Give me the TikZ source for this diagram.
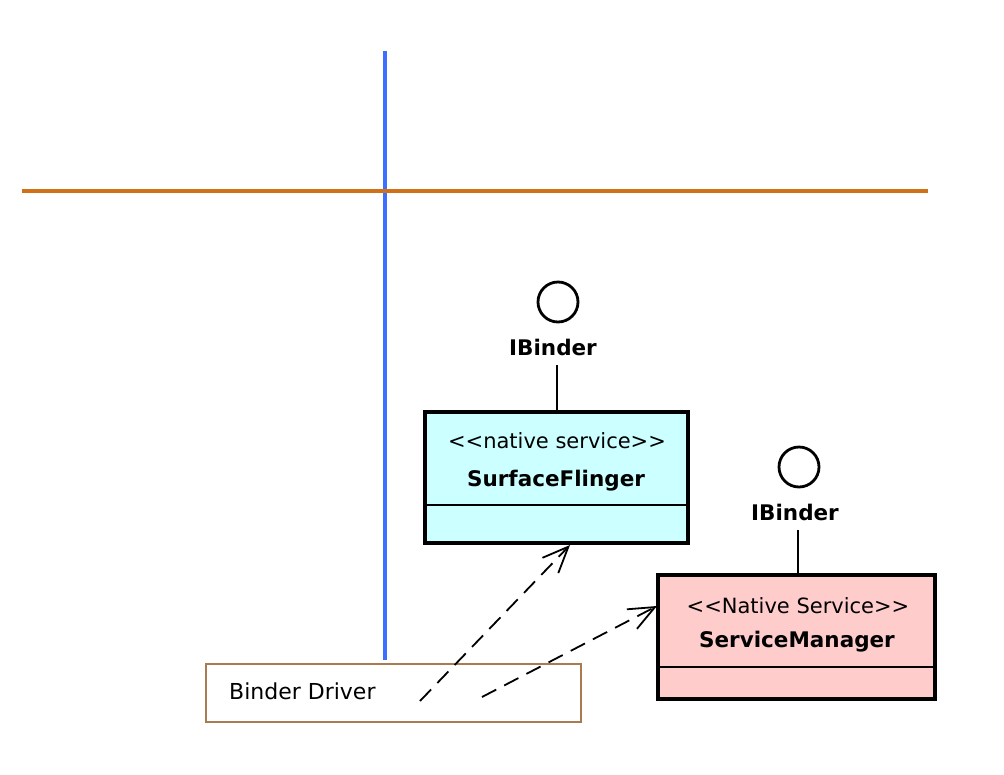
\documentclass[tikz,border=0pt]{standalone}
\usepackage{fontspec}
\setmainfont{DejaVu Sans}
\usetikzlibrary{arrows.meta,calc}
\definecolor{cyanfill}{RGB}{204,255,255}
\definecolor{pinkfill}{RGB}{255,204,204}
\definecolor{lineblue}{RGB}{60,110,255}
\definecolor{lineorange}{RGB}{208,112,24}
\definecolor{drvbrown}{RGB}{168,124,80}
\newcommand\myLT{\mbox{<}}
\newcommand\myGT{\mbox{>}}
\tikzset{
  classbox/.style={draw=black, line width=3.5pt, inner sep=0pt},
  stereo/.style={font=\fontsize{21}{25}\selectfont, inner sep=0pt},
  cname/.style={font=\bfseries\fontsize{21.5}{25}\selectfont, inner sep=0pt},
  lolli/.style={draw=black, line width=2.8pt, circle, minimum size=40pt, inner sep=0pt},
  iface/.style={font=\bfseries\fontsize{21.5}{25}\selectfont, inner sep=0pt},
  dep/.style={draw=black, line width=1.8pt, dash pattern=on 16pt off 9pt,
    -{Straight Barb[length=26pt,width=22pt,line width=1.8pt]}},
}
\begin{document}
\begin{tikzpicture}[x=1pt,y=-1pt]
\useasboundingbox[fill=white] (0,0) rectangle (1004,774);
% axes
\coordinate (vtop) at (385,51);
\coordinate (vbot) at (385,660);
\coordinate (hl) at (22,191);
\coordinate (hr) at (928,191);
\draw[lineblue, line width=4pt] (vtop) -- (vbot);
\draw[lineorange, line width=3.5pt] (hl) -- (hr);
% SurfaceFlinger
\node[classbox, fill=cyanfill, minimum width=263pt, minimum height=131pt] (sf) at (556.5,477.5) {};
\draw[line width=2pt] (sf.west |- 0,505) coordinate (sfdl) -- (sf.east |- 0,505) coordinate (sfdr);
\node[stereo] (sfst) at (557,441) {\myLT\myLT native service\myGT\myGT};
\node[cname] (sfnm) at (556,481) {SurfaceFlinger};
\node[lolli] (sfc) at (558,302) {};
\node[iface] (sfib) at (553,347) {IBinder};
\coordinate (sfls) at (557,365);
\draw[line width=1.6pt] (sfls) -- (sfls |- sf.north);
% ServiceManager
\node[classbox, fill=pinkfill, minimum width=277pt, minimum height=124pt] (sm) at (796.5,637) {};
\draw[line width=2pt] (sm.west |- 0,667) coordinate (smdl) -- (sm.east |- 0,667) coordinate (smdr);
\node[stereo] (smst) at (798,606) {\myLT\myLT Native Service\myGT\myGT};
\node[cname] (smnm) at (797,642) {ServiceManager};
\node[lolli] (smc) at (799,467) {};
\node[iface] (smib) at (795,512) {IBinder};
\coordinate (smls) at (798,530);
\draw[line width=1.6pt] (smls) -- (smls |- sm.north);
% Binder Driver
\node[draw=drvbrown, line width=2pt, minimum width=375pt, minimum height=58pt, inner sep=0pt] (bd) at (393.5,693) {};
\node[font=\fontsize{22}{26}\selectfont, anchor=west, inner sep=0pt] (bdt) at (229,691) {Binder Driver};
% dependencies
\coordinate (d1s) at (420,701);
\coordinate (d1e) at (570,545);
\coordinate (d2s) at (482,697);
\coordinate (d2e) at (657,606);
\draw[dep] (d1s) -- (d1e);
\draw[dep] (d2s) -- (d2e);
\end{tikzpicture}
\end{document}
